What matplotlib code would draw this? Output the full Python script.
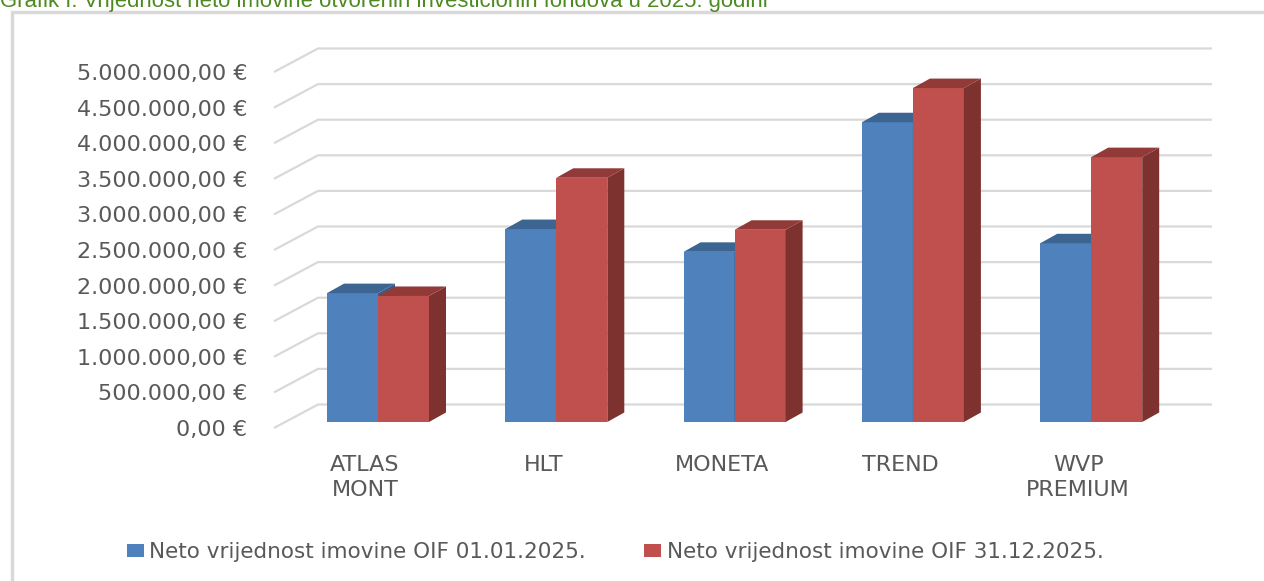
import matplotlib.pyplot as plt
from matplotlib.patches import Polygon, Rectangle
import numpy as np

# data
categories = ["ATLAS\nMONT", "HLT", "MONETA", "TREND", "WVP\nPREMIUM"]
start_2025 = [1810000, 2710000, 2390000, 4210000, 2510000]
end_2025 = [1770000, 3430000, 2700000, 4690000, 3720000]
tick_values = [0, 500000, 1000000, 1500000, 2000000, 2500000,
               3000000, 3500000, 4000000, 4500000, 5000000]
tick_labels = ["0,00 €", "500.000,00 €", "1.000.000,00 €", "1.500.000,00 €",
               "2.000.000,00 €", "2.500.000,00 €", "3.000.000,00 €",
               "3.500.000,00 €", "4.000.000,00 €", "4.500.000,00 €",
               "5.000.000,00 €"]
legend_labels = ["Neto vrijednost imovine OIF 01.01.2025.",
                 "Neto vrijednost imovine OIF 31.12.2025."]
title = "Grafik I: Vrijednost neto imovine otvorenih investicionih fondova u 2025. godini"

"""
GEOMETRY
- the chart is a fake 3D column chart, so depth is an oblique offset
"""
W, H = 1264, 581
PX_CAT = 178.3            # pixels per category
PX_EUR = 500000 / 35.6    # euros per pixel


def px_x(p):
    return p / PX_CAT


def px_y(p):
    return p * PX_EUR


BAR_W = px_x(51)
DX, DY = px_x(17), px_y(9.5)          # bar depth
BACK_DX, BACK_DY = px_x(-60), px_y(17.5)   # back wall relative to bar front
FRONT_DX, FRONT_DY = px_x(-104), px_y(-6)  # front edge of floor/side wall
WALL_END = px_x(1212 - 378)

TEXT_GREY = "#595959"
GRID = "#d9d9d9"
BLUE, BLUE_TOP, BLUE_SIDE = "#4f81bd", "#3d6592", "#385d8a"
RED, RED_TOP, RED_SIDE = "#c0504d", "#913a38", "#7d3230"

fig = plt.figure(figsize=(W / 100, H / 100), dpi=100)
ax = fig.add_axes([260 / W, 1 - 440 / H, 960 / W, 410 / H])
ax.set_xlim(px_x(260 - 378), px_x(1220 - 378))
ax.set_ylim(px_y(422 - 440), px_y(422 - 30))
for s in ax.spines.values():
    s.set_visible(False)

# grid lines on the back wall and on the left wall
for v in tick_values:
    ax.plot([FRONT_DX, BACK_DX, WALL_END],
            [v + FRONT_DY, v + BACK_DY, v + BACK_DY],
            color=GRID, lw=1.6, solid_capstyle="butt", zorder=1)


def draw_column(x0, h, front, top, side):
    bars = ax.bar(x0, h, BAR_W, align="edge", color=front, linewidth=0, zorder=3)
    x1 = x0 + BAR_W
    ax.add_patch(Polygon([(x1, 0), (x1 + DX, DY), (x1 + DX, h + DY), (x1, h)],
                         closed=True, facecolor=side, linewidth=0, zorder=3))
    ax.add_patch(Polygon([(x0, h), (x1, h), (x1 + DX, h + DY), (x0 + DX, h + DY)],
                         closed=True, facecolor=top, linewidth=0, zorder=3))
    return bars


idx = np.arange(len(categories))
handles = [None, None]
for i in idx:
    handles[0] = draw_column(i - BAR_W, start_2025[i], BLUE, BLUE_TOP, BLUE_SIDE)
    handles[1] = draw_column(i, end_2025[i], RED, RED_TOP, RED_SIDE)

ax.set_xticks([])
ax.set_yticks(np.array(tick_values) + FRONT_DY)
ax.set_yticklabels(tick_labels, fontsize=16, color=TEXT_GREY)
ax.tick_params(axis="y", length=0, pad=9)

for i, name in zip(idx, categories):
    ax.text(i - px_x(13), px_y(422 - 455), name, ha="center", va="top",
            fontsize=16, color=TEXT_GREY, linespacing=1.3)

fig.legend(handles, legend_labels, loc="center", bbox_to_anchor=(615 / W, 1 - 552 / H),
           ncol=2, frameon=False, fontsize=15.5, labelcolor=TEXT_GREY,
           handlelength=0.8, handleheight=0.6, handletextpad=0.25,
           columnspacing=2.7)

# outer frame of the chart area, cut off at right and bottom
fig.patches.append(Rectangle((12 / W, -0.2), 1.2, 1.2 - 12 / H,
                             transform=fig.transFigure, fill=False,
                             edgecolor=GRID, lw=2.5))

fig.text(0, 1 - 7 / H, title, family="Liberation Sans", fontsize=15.9,
         color="#4e8a22", va="baseline", ha="left")

fig.savefig("out.png", dpi=100)
plt.close(fig)
